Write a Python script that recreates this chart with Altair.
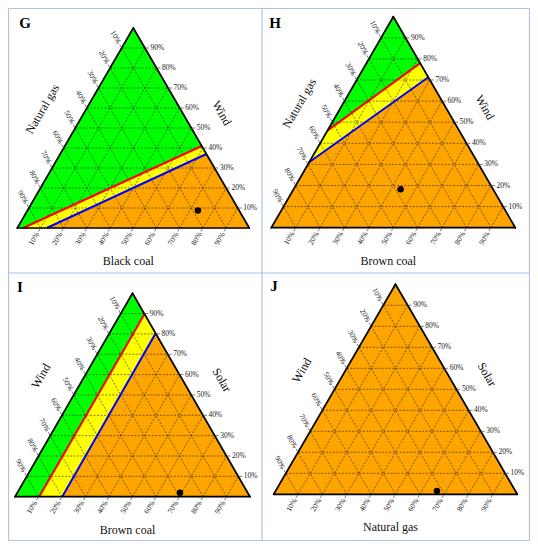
import altair as alt
import pandas as pd

# ---------------- data ----------------
panels = ["G", "H", "I", "J"]
left_titles = ["Natural gas", "Natural gas", "Wind", "Wind"]
right_titles = ["Wind", "Wind", "Solar", "Solar"]
bottom_titles = ["Black coal", "Brown coal", "Brown coal", "Natural gas"]
tick_values = [10, 20, 30, 40, 50, 60, 70, 80, 90]

# boundary lines, ternary shares (left-axis share, bottom-axis share, right-axis share)
red_start = [(0.975, 0.025, 0.0), (0.54, 0.0, 0.46), (0.897, 0.103, 0.0), None]
red_end = [(0.0, 0.59, 0.41), (0.0, 0.22, 0.78), (0.0, 0.102, 0.898), None]
blue_start = [(0.873, 0.127, 0.0), (0.69, 0.0, 0.31), (0.799, 0.201, 0.0), None]
blue_end = [(0.0, 0.63, 0.37), (0.0, 0.287, 0.713), (0.0, 0.197, 0.803), None]

point_n = [0.178, 0.379, 0.288, 0.322]
point_b = [0.735, 0.439, 0.692, 0.662]
point_w = [0.087, 0.182, 0.020, 0.016]

# ---------------- layout ----------------
tri_x0 = [17.3, 271.3, 15.0, 273.7]
tri_base = [228.0, 227.7, 496.7, 494.3]
tri_w = [232.0, 244.0, 235.0, 243.6]
tri_h = [200.0, 211.0, 203.5, 210.0]
letter_pos = [(25, 23), (275, 23), (20, 287), (274, 286)]
GREEN, YELLOW, ORANGE = "#00ff00", "#ffff00", "#ffa500"
SERIF = "Liberation Serif, Times New Roman, serif"


def tern(i, n, b, w):
    return tri_x0[i] + tri_w[i] * (b + w / 2.0), tri_base[i] - tri_h[i] * w


def clip(poly, p1, p2, ref):
    def side(p):
        return (p2[0] - p1[0]) * (p[1] - p1[1]) - (p2[1] - p1[1]) * (p[0] - p1[0])
    sr = 1 if side(ref) > 0 else -1
    out = []
    for k in range(len(poly)):
        cur, prev = poly[k], poly[k - 1]
        sc, sp = side(cur) * sr, side(prev) * sr
        if sc >= -1e-9:
            if sp < -1e-9:
                t = sp / (sp - sc)
                out.append((prev[0] + t * (cur[0] - prev[0]), prev[1] + t * (cur[1] - prev[1])))
            out.append(cur)
        elif sp >= -1e-9:
            t = sp / (sp - sc)
            out.append((prev[0] + t * (cur[0] - prev[0]), prev[1] + t * (cur[1] - prev[1])))
    return out


poly_rows, grid_rows, bound_rows, edge_rows = [], [], [], []
tick_rows, lab_rows, title_rows, pt_rows = [], [], [], []
for i, p in enumerate(panels):
    A = tern(i, 0, 0, 1)
    BL = tern(i, 1, 0, 0)
    BR = tern(i, 0, 1, 0)
    tri = [BL, BR, A]
    polys = [("orange", tri)]
    if blue_start[i] is not None:
        polys.append(("yellow", clip(tri, tern(i, *blue_start[i]), tern(i, *blue_end[i]), A)))
        polys.append(("green", clip(tri, tern(i, *red_start[i]), tern(i, *red_end[i]), A)))
        for name, s, e in (("red", red_start[i], red_end[i]), ("blue", blue_start[i], blue_end[i])):
            (x1, y1), (x2, y2) = tern(i, *s), tern(i, *e)
            bound_rows.append(dict(panel=p, line=name, x=x1, y=y1, x2=x2, y2=y2))
    for region, pts in polys:
        for k, (x, y) in enumerate(pts):
            poly_rows.append(dict(panel=p, region=region, k=k, x=x, y=y))
    for a, b in ((BL, BR), (BR, A), (A, BL)):
        edge_rows.append(dict(panel=p, x=a[0], y=a[1], x2=b[0], y2=b[1]))
    eps_t = 4.0 / tri_w[i]
    eps_l = 5.5 / tri_w[i]
    for v in tick_values:
        f = v / 100.0
        for s, e in (((1 - f, 0, f), (0, 1 - f, f)),
                     ((1 - f, f, 0), (0, f, 1 - f)),
                     ((f, 1 - f, 0), (f, 0, 1 - f))):
            (x1, y1), (x2, y2) = tern(i, *s), tern(i, *e)
            grid_rows.append(dict(panel=p, x=x1, y=y1, x2=x2, y2=y2))
        lab = f"{v}%"
        (x1, y1), (x2, y2) = tern(i, 0, 1 - f, f), tern(i, -eps_t, 1 - f + eps_t, f)
        tick_rows.append(dict(panel=p, x=x1, y=y1, x2=x2, y2=y2))
        lx, ly = tern(i, -eps_l, 1 - f + eps_l, f)
        lab_rows.append(dict(panel=p, side="right", x=lx, y=ly, label=lab))
        (x1, y1), (x2, y2) = tern(i, 1 - f, f, 0), tern(i, 1 - f + eps_t, f, -eps_t)
        tick_rows.append(dict(panel=p, x=x1, y=y1, x2=x2, y2=y2))
        lx, ly = tern(i, 1 - f + eps_l, f, -eps_l)
        lab_rows.append(dict(panel=p, side="bottom", x=lx, y=ly, label=lab))
        (x1, y1), (x2, y2) = tern(i, f, 0, 1 - f), tern(i, f, -eps_t, 1 - f + eps_t)
        tick_rows.append(dict(panel=p, x=x1, y=y1, x2=x2, y2=y2))
        lx, ly = tern(i, f, -eps_l, 1 - f + eps_l)
        lab_rows.append(dict(panel=p, side="left", x=lx, y=ly, label=lab))
    mx, my = BL[0] + 0.5 * (A[0] - BL[0]), BL[1] + 0.5 * (A[1] - BL[1])
    title_rows.append(dict(panel=p, side="left", x=mx - 0.866 * 38, y=my - 0.5 * 38, label=left_titles[i]))
    mx, my = BR[0] + 0.49 * (A[0] - BR[0]), BR[1] + 0.49 * (A[1] - BR[1])
    title_rows.append(dict(panel=p, side="right", x=mx + 0.866 * 34, y=my - 0.5 * 34, label=right_titles[i]))
    title_rows.append(dict(panel=p, side="bottom", x=(BL[0] + BR[0]) / 2 - 5, y=BL[1] + 33, label=bottom_titles[i]))
    title_rows.append(dict(panel=p, side="letter", x=letter_pos[i][0], y=letter_pos[i][1], label=p))
    px, py = tern(i, point_n[i], point_b[i], point_w[i])
    pt_rows.append(dict(panel=p, x=px, y=py))

polys_df = pd.DataFrame(poly_rows)
grid_df = pd.DataFrame(grid_rows)
bound_df = pd.DataFrame(bound_rows)
edge_df = pd.DataFrame(edge_rows)
tick_df = pd.DataFrame(tick_rows)
lab_df = pd.DataFrame(lab_rows)
title_df = pd.DataFrame(title_rows)
pt_df = pd.DataFrame(pt_rows)
border_df = pd.DataFrame([
    dict(x=8.5, y=8.5, x2=529.5, y2=8.5), dict(x=8.5, y=540.5, x2=529.5, y2=540.5),
    dict(x=8.5, y=8.5, x2=8.5, y2=540.5), dict(x=529.5, y=8.5, x2=529.5, y2=540.5),
    dict(x=262, y=8.5, x2=262, y2=540.5), dict(x=8.5, y=273, x2=529.5, y2=273),
])

X = alt.X("x:Q", scale=alt.Scale(domain=[8, 530], nice=False, zero=False), axis=None)
Y = alt.Y("y:Q", scale=alt.Scale(domain=[8, 542], nice=False, zero=False, reverse=True), axis=None)

layers = []
for region, col in (("orange", ORANGE), ("yellow", YELLOW), ("green", GREEN)):
    layers.append(
        alt.Chart(polys_df[polys_df.region == region]).mark_line(fill=col, stroke=col, strokeWidth=0.5)
        .encode(x=X, y=Y, detail="panel:N", order="k:Q")
    )
layers.append(
    alt.Chart(grid_df).mark_rule(color="#1a1a1a", strokeWidth=0.65, strokeDash=[2, 1.5], opacity=0.9)
    .encode(x=X, y=Y, x2="x2:Q", y2="y2:Q")
)
layers.append(
    alt.Chart(bound_df).mark_rule(strokeWidth=2)
    .encode(x=X, y=Y, x2="x2:Q", y2="y2:Q",
            color=alt.Color("line:N", scale=alt.Scale(domain=["red", "blue"], range=["#ff0000", "#0000ff"]), legend=None))
)
layers.append(
    alt.Chart(edge_df).mark_rule(color="black", strokeWidth=1.7, strokeCap="round")
    .encode(x=X, y=Y, x2="x2:Q", y2="y2:Q")
)
layers.append(
    alt.Chart(tick_df).mark_rule(color="#444444", strokeWidth=0.7)
    .encode(x=X, y=Y, x2="x2:Q", y2="y2:Q")
)
for side, ang, al in (("right", 0, "left"), ("bottom", 300, "right"), ("left", 60, "right")):
    layers.append(
        alt.Chart(lab_df[lab_df.side == side]).mark_text(
            angle=ang, align=al, baseline="middle", font=SERIF, fontSize=7.5, color="#222222")
        .encode(x=X, y=Y, text="label:N")
    )
for side, ang in (("left", 300), ("right", 60), ("bottom", 0)):
    layers.append(
        alt.Chart(title_df[title_df.side == side]).mark_text(
            angle=ang, align="center", baseline="middle", font=SERIF, fontSize=12, color="#111111")
        .encode(x=X, y=Y, text="label:N")
    )
layers.append(
    alt.Chart(title_df[title_df.side == "letter"]).mark_text(
        align="center", baseline="middle", font=SERIF, fontSize=15, fontWeight="bold", color="black")
    .encode(x=X, y=Y, text="label:N")
)
layers.append(
    alt.Chart(pt_df).mark_circle(size=42, color="black", opacity=1).encode(x=X, y=Y)
)
layers.append(
    alt.Chart(border_df).mark_rule(color="#aec2e8", strokeWidth=1.2)
    .encode(x=X, y=Y, x2="x2:Q", y2="y2:Q")
)

chart = alt.layer(*layers).properties(
    width=522, height=534, padding=0, autosize="none", background="white"
).configure_view(strokeWidth=0)

chart.save("out.html", embed_options={"renderer": "svg", "actions": False})
